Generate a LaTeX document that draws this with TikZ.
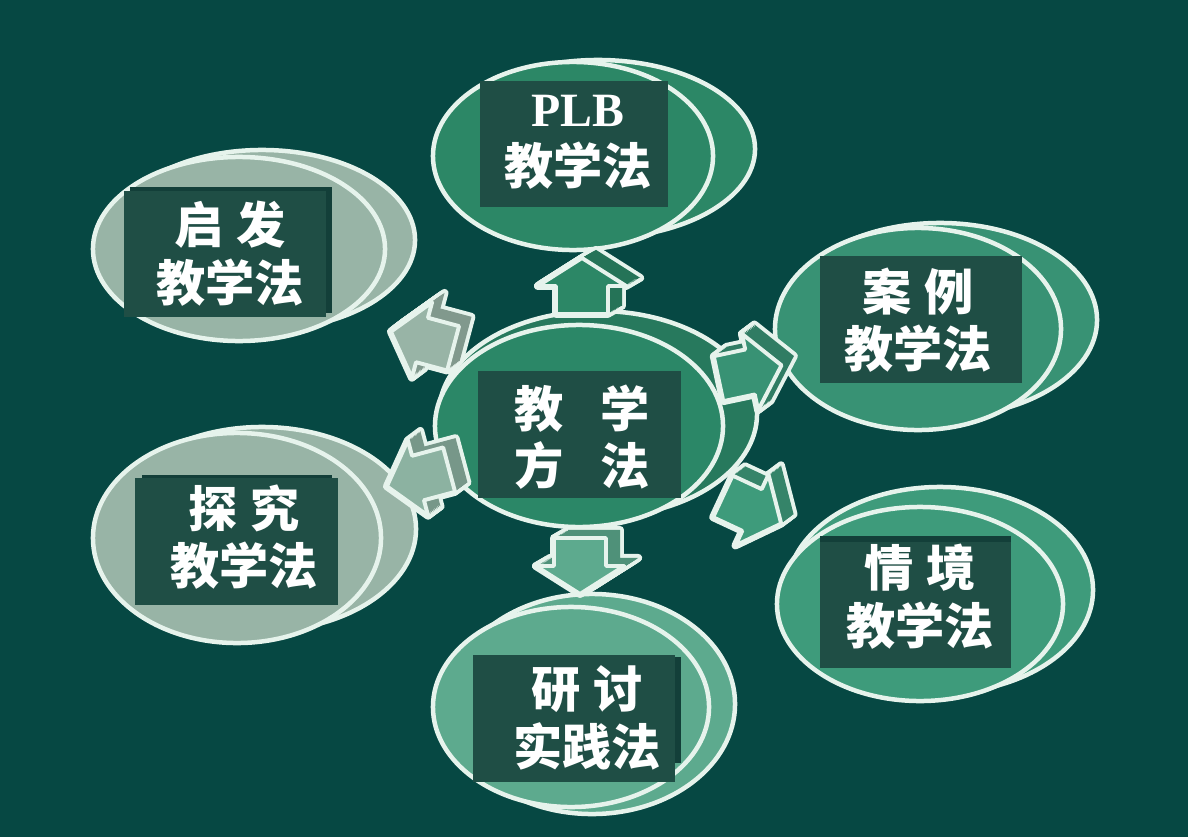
\documentclass[tikz,border=0pt]{standalone}
\usepackage{fontspec}
\setmainfont{Liberation Serif}
\newfontfamily\cjkfont{Noto Sans CJK SC}
\usetikzlibrary{shapes.geometric}
\definecolor{boardbg}{HTML}{064843}
\definecolor{boxfill}{HTML}{1F4E45}
\definecolor{boxshade}{HTML}{133F39}
\definecolor{ringline}{HTML}{E6F3EC}
\definecolor{graygreen}{HTML}{98B4A6}
\definecolor{plbgreen}{HTML}{2C8766}
\definecolor{midgreen}{HTML}{2B8767}
\definecolor{anligreen}{HTML}{389274}
\definecolor{qjgreen}{HTML}{3E9B7B}
\definecolor{lightgreen}{HTML}{5DAA8E}
\tikzset{
  ring/.style 2 args={ellipse, draw=ringline, line width=3.2pt, inner sep=0pt,
    minimum width=#1*0.05cm, minimum height=#2*0.05cm},
  labelbox/.style 2 args={fill=boxfill, inner sep=0pt,
    minimum width=#1*0.025cm, minimum height=#2*0.025cm},
  boxshadow/.style 2 args={fill=boxshade, inner sep=0pt,
    minimum width=#1*0.025cm, minimum height=#2*0.025cm},
  labeltext/.style={text=white, align=center, inner sep=0pt,
    font=\cjkfont\bfseries\fontsize{35}{41}\selectfont},
  arrowface/.style={line width=2.8pt, line join=round},
  pics/blockarr/.style 2 args={code={
    % side of the block: the front shape swept back to the upper right
    \foreach \t in {0,0.1,...,1}
      \draw[arrowface, draw=ringline, line width=5.6pt, shift={(\t*12,-\t*9)}, rotate=#1]
        (-28,-20) -- (0,-20) -- (0,-34) -- (28,0) -- (0,34) -- (0,20) -- (-28,20) -- cycle;
    \foreach \t in {0,0.1,...,1}
      \fill[#2!85!black, shift={(\t*12,-\t*9)}, rotate=#1]
        (-28,-20) -- (0,-20) -- (0,-34) -- (28,0) -- (0,34) -- (0,20) -- (-28,20) -- cycle;
    \draw[arrowface, draw=ringline, fill=#2, rotate=#1]
      (-28,-20) -- (0,-20) -- (0,-34) -- (28,0) -- (0,34) -- (0,20) -- (-28,20) -- cycle;
  }}
}

\begin{document}
\begin{tikzpicture}[x=0.025cm, y=-0.025cm]
  \fill[boardbg] (0,0) rectangle (1188,840);
  \fill[white] (0,837) rectangle (1188,840);
  \useasboundingbox (0,0) rectangle (1188,840);

  % back rings
  \node[ring={153}{90}, fill=graygreen] (qifaback) at (262,240) {};
  \node[ring={154}{102}, fill=graygreen] (tanjiuback) at (262,529) {};
  \node[ring={157}{89}, fill=plbgreen] (plbback) at (598,149) {};
  \node[ring={159}{103}, fill=midgreen!90!black] (coreback) at (598,414) {};
  \node[ring={157}{97}, fill=anligreen] (anliback) at (940,320) {};
  \node[ring={153}{103}, fill=qjgreen] (qjback) at (940,590) {};
  \node[ring={143}{110}, fill=lightgreen] (yantaoback) at (592,704) {};

  % front rings
  \node[ring={146}{92}, fill=graygreen] (qifa) at (239,249) {};
  \node[ring={144}{105}, fill=graygreen] (tanjiu) at (237,538) {};
  \node[ring={140}{94}, fill=plbgreen] (plb) at (573,156) {};
  \node[ring={144}{101}, fill=midgreen] (core) at (579,426) {};
  \node[ring={143}{101}, fill=anligreen] (anli) at (918,329) {};
  \node[ring={143}{97}, fill=qjgreen] (qj) at (920,604) {};
  \node[ring={138}{100}, fill=lightgreen] (yantao) at (571,707) {};

  % block arrows
  \pic[xscale=1.3] (toplb) at (582,286) {blockarr={90}{plbgreen}};
  \pic[xscale=1.3] (toyantao) at (580,566) {blockarr={-90}{lightgreen}};
  \pic[scale=1.15] (toqifa) at (422,340) {blockarr={165}{graygreen}};
  \pic[scale=1.15] (totanjiu) at (418,478) {blockarr={195}{graygreen!80!lightgreen}};
  \pic[scale=1.15] (toanli) at (750,372) {blockarr={12}{anligreen}};
  \pic[scale=1.15] (toqj) at (752,510) {blockarr={-25}{qjgreen}};

  % label boxes
  \node[boxshadow={202}{126}] (qifashd) at (231,250) {};
  \node[labelbox={202}{126}] (qifabox) at (225,254) {};
  \node[boxshadow={190}{127}] (tanjiushd) at (237,538) {};
  \node[labelbox={203}{127}] (tanjiubox) at (236,541) {};
  \node[labelbox={188}{125}] (plbbox) at (574,144) {};
  \node[labelbox={203}{127}] (corebox) at (579,434) {};
  \node[labelbox={202}{127}] (anlibox) at (921,319) {};
  \node[boxshadow={191}{126}] (qjshd) at (915,599) {};
  \node[labelbox={191}{126}] (qjbox) at (915,605) {};
  \node[boxshadow={202}{106}] (yantaoshd) at (580,710) {};
  \node[labelbox={202}{127}] (yantaobox) at (574,718) {};

  % texts
  \node[labeltext] (qifatxt) at (230,254) {启\hspace{0.25em}发\\教学法};
  \node[labeltext] (tanjiutxt) at (244,537) {探\hspace{0.25em}究\\教学法};
  \node[labeltext] (plbtxt) at (578,142) {{\rmfamily\bfseries\fontsize{34}{41}\selectfont PLB}\\教学法};
  \node[labeltext] (coretxt) at (582,437) {教\hspace{0.75em}学\\方\hspace{0.75em}法};
  \node[labeltext] (anlitxt) at (918,320) {案\hspace{0.25em}例\\教学法};
  \node[labeltext] (qjtxt) at (920,597) {情\hspace{0.25em}境\\教学法};
  \node[labeltext] (yantaotxt) at (587,718) {研\hspace{0.25em}讨\\实践法};
\end{tikzpicture}
\end{document}
